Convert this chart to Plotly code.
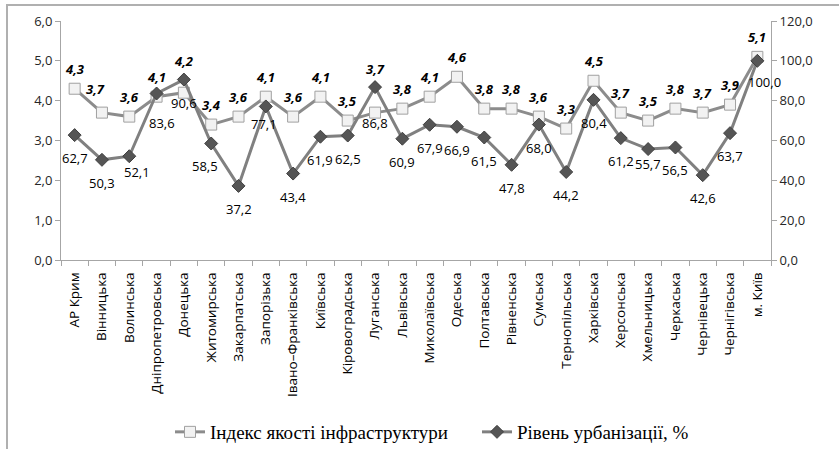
import plotly.graph_objects as go

regions = ["АР Крим", "Вінницька", "Волинська", "Дніпропетровська", "Донецька",
           "Житомирська", "Закарпатська", "Запорізька", "Івано–Франківська", "Київська",
           "Кіровоградська", "Луганська", "Львівська", "Миколаївська", "Одеська",
           "Полтавська", "Рівненська", "Сумська", "Тернопільська", "Харківська",
           "Херсонська", "Хмельницька", "Черкаська", "Чернівецька", "Чернігівська", "м. Київ"]

infra_index = [4.3, 3.7, 3.6, 4.1, 4.2, 3.4, 3.6, 4.1, 3.6, 4.1, 3.5, 3.7, 3.8,
               4.1, 4.6, 3.8, 3.8, 3.6, 3.3, 4.5, 3.7, 3.5, 3.8, 3.7, 3.9, 5.1]

urbanization = [62.7, 50.3, 52.1, 83.6, 90.6, 58.5, 37.2, 77.1, 43.4, 61.9, 62.5,
                86.8, 60.9, 67.9, 66.9, 61.5, 47.8, 68.0, 44.2, 80.4, 61.2, 55.7,
                56.5, 42.6, 63.7, 100.0]

name_index = "Індекс якості інфраструктури"
name_urban = "Рівень урбанізації, %"

def fmt(v):
    return f"{v:.1f}".replace(".", ",")

fig = go.Figure()
fig.add_trace(go.Scatter(
    x=regions, y=infra_index, name=name_index, mode="lines+markers",
    line=dict(color="#8c8c8c", width=3),
    marker=dict(symbol="square", size=11, color="#f2f2f2",
                line=dict(color="#a0a0a0", width=1)),
    yaxis="y"))
fig.add_trace(go.Scatter(
    x=regions, y=urbanization, name=name_urban, mode="lines+markers",
    line=dict(color="#808080", width=3),
    marker=dict(symbol="diamond", size=10, color="#555555",
                line=dict(color="#404040", width=1)),
    yaxis="y2"))

# data labels
label_font = dict(family="Open Sans", size=13, color="#000000")
idx_shift_override = {4: 32, 11: 44, 1: 24}
idx_xshift_override = {1: -6}
for i, (r, v) in enumerate(zip(regions, infra_index)):
    fig.add_annotation(x=r, y=v, xref="x", yref="y", showarrow=False,
                       text=f"<b><i>{fmt(v)}</i></b>", font=label_font,
                       yshift=idx_shift_override.get(i, 20),
                       xshift=idx_xshift_override.get(i, 0))
urb_shift_override = {2: -16, 3: -29, 11: -36, 25: -21, 21: -15, 7: -18}
urb_xshift_override = {2: 8, 3: 5, 25: 7, 5: -6, 7: -2}
for i, (r, v) in enumerate(zip(regions, urbanization)):
    fig.add_annotation(x=r, y=v, xref="x", yref="y2", showarrow=False,
                       text=fmt(v), font=label_font,
                       yshift=urb_shift_override.get(i, -23),
                       xshift=urb_xshift_override.get(i, 0))

# layout geometry (pixels): plot area 61..771 x 21..260 ; margin area extends to 389
H_TOP, H_BOT = 21, 389
plot_h = H_BOT - H_TOP
y_dom0 = (H_BOT - 260) / plot_h

axis_font = dict(family="Open Sans", size=13, color="#262626")
fig.update_layout(
    width=839, height=449,
    margin=dict(l=61, r=68, t=H_TOP, b=449 - H_BOT, autoexpand=False),
    paper_bgcolor="white", plot_bgcolor="white",
    separators=", ",
    showlegend=True,
    legend=dict(orientation="h", x=(170 - 61) / 710, xanchor="left",
                y=(H_BOT - 432) / plot_h, yanchor="middle",
                font=dict(family="Liberation Serif", size=19, color="#000000"),
                itemwidth=30, entrywidth=262, tracegroupgap=0,
                bgcolor="rgba(0,0,0,0)"),
    xaxis=dict(type="category", tickangle=-90, showgrid=False, anchor="y",
               showline=True, linecolor="#a6a6a6", linewidth=1,
               ticks="outside", tickson="boundaries", ticklen=5, tickcolor="#a6a6a6",
               ticklabelstandoff=6, automargin=False,
               tickfont=dict(family="Open Sans", size=13.5, color="#000000"),
               range=[-0.5, len(regions) - 0.5]),
    yaxis=dict(range=[0, 6], dtick=1, tickformat=".1f", showgrid=False,
               domain=[y_dom0, 1], automargin=False,
               showline=True, linecolor="#a6a6a6", linewidth=1,
               ticks="outside", ticklen=5, tickcolor="#a6a6a6",
               tickfont=axis_font, zeroline=False),
    yaxis2=dict(range=[0, 120], dtick=20, tickformat=".1f", showgrid=False,
                overlaying="y", side="right", automargin=False,
                showline=True, linecolor="#a6a6a6", linewidth=1,
                ticks="outside", ticklen=5, tickcolor="#a6a6a6",
                tickfont=axis_font, zeroline=False),
)

# outer chart border
fig.add_shape(type="rect", xref="paper", yref="paper",
              x0=(7 - 61) / 710, x1=1.2,
              y0=-0.5, y1=(H_BOT - 5) / plot_h,
              line=dict(color="#b0b0b0", width=2), fillcolor="rgba(0,0,0,0)", layer="below")

fig.write_html("out.html", config={"displayModeBar": False},
               post_script="document.body.style.margin='0px';")
